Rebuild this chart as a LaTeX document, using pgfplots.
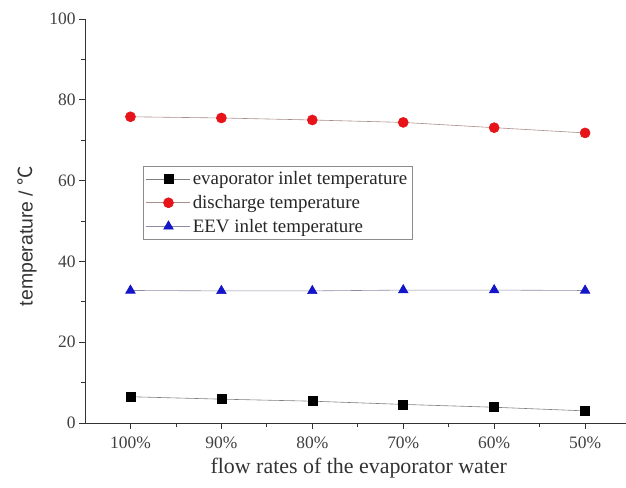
\documentclass[border=0pt]{standalone}
\usepackage{fontspec}
\setmainfont{Liberation Serif}
\newfontfamily\arialf{Liberation Sans}
\newfontfamily\cjk{Noto Sans CJK SC}
\usepackage{pgfplots}
\pgfplotsset{compat=1.18}
\definecolor{mred}{RGB}{230,20,25}
\definecolor{mblue}{RGB}{20,20,200}
\begin{document}
\begin{tikzpicture}
\begin{axis}[name=ax, scale only axis, width=541bp, height=404bp,
  xmin=-0.5, xmax=5.45, ymin=0, ymax=100,
  axis x line*=bottom, axis y line*=left,
  xtick={0,1,2,3,4,5},
  xticklabels={100\%,90\%,80\%,70\%,60\%,50\%},
  ytick={0,20,40,60,80,100},
  minor x tick num=1, minor y tick num=1,
  tick align=outside, major tick length=6bp, minor tick length=4bp,
  tick style={black!80, line width=0.8pt},
  axis line style={black!80, line width=0.9pt},
  /pgf/number format/assume math mode=true,
  ticklabel style={font=\fontsize{17.5}{19}\selectfont, text=black!75},
  xticklabel style={yshift=-4bp},
  xlabel={flow rates of the evaporator water},
  xlabel style={at={(axis description cs:0.506,-0.111)}, anchor=center, font=\fontsize{22}{24}\selectfont, text=black!80},
  ylabel={temperature / {\cjk ℃}},
  ylabel style={at={(axis description cs:-0.107,0.463)}, anchor=center, font=\arialf\fontsize{19.5}{22}\selectfont, text=black!80},
  legend style={at={(axis description cs:0.107,0.636)}, anchor=north west,
    draw=black!45, line width=0.6pt, font=\fontsize{19}{21}\selectfont, text=black!85,
    row sep=5bp, inner xsep=3bp, inner ysep=3.5bp},
  legend cell align=left,
  legend image code/.code={\draw[mark repeat=2, mark phase=2] plot coordinates {(0bp,0bp) (22bp,0bp) (44bp,0bp)};},
  every axis plot/.append style={line width=0.6pt},
]
\addplot[color=black!50, mark=square*, mark size=4.5bp, mark options={fill=black, draw=black}]
  coordinates {(0,6.5) (1,5.9) (2,5.4) (3,4.6) (4,3.9) (5,3.0)};
\addlegendentry{evaporator inlet temperature}
\addplot[color=red!25!black!45, mark=*, mark size=5bp, mark options={fill=mred, draw=mred}]
  coordinates {(0,75.8) (1,75.5) (2,75.0) (3,74.4) (4,73.1) (5,71.8)};
\addlegendentry{discharge temperature}
\addplot[color=blue!20!black!45, mark=triangle*, mark size=5.5bp, mark options={fill=mblue, draw=mblue}]
  coordinates {(0,32.8) (1,32.7) (2,32.7) (3,32.9) (4,32.9) (5,32.8)};
\addlegendentry{EEV inlet temperature}
\end{axis}
\pgfresetboundingbox
\path ([shift={(-85bp,-65bp)}]ax.south west) rectangle ([shift={(0bp,19bp)}]ax.north east);
\end{tikzpicture}
\end{document}
